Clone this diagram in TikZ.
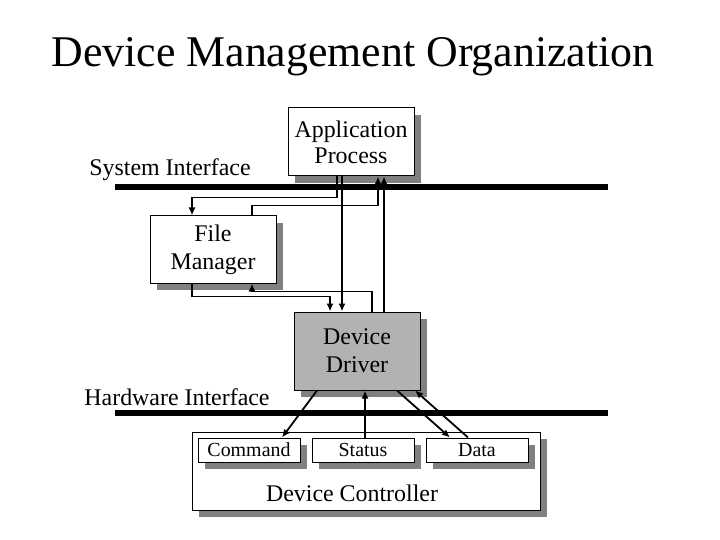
\documentclass[tikz,border=0pt]{standalone}
\usepackage{fontspec}
\setmainfont{Liberation Serif}
\usetikzlibrary{arrows.meta,shadows}

\tikzset{
  box/.style = {draw, line width=1bp, fill=white, align=center,
    font=\fontsize{24}{28}\selectfont,
    drop shadow={shadow xshift=7bp, shadow yshift=-7bp, fill=black!50, opacity=1}},
  smallbox/.style = {box, font=\fontsize{20}{24}\selectfont,
    minimum width=102bp, minimum height=24bp, inner sep=0pt},
  arr/.style = {line width=1.8bp, -{Latex[length=8bp,width=7bp]}},
  bar/.style = {line width=6bp},
  lbl/.style = {font=\fontsize{24}{28}\selectfont}
}

\begin{document}
\begin{tikzpicture}[x=1bp, y=-1bp]
      \useasboundingbox (0,0) rectangle (720,540);

      % Title
      \node[font=\fontsize{44}{50}\selectfont] (title) at (353,57) {Device Management Organization};

      % Interfaces
      \draw[bar] (115,187) -- (608,187);
      \draw[bar] (115,413) -- (608,413);
      \node[lbl] (sysif) at (170,170) {System Interface};
      \node[lbl] (hwif) at (177,397) {Hardware Interface};

      % Boxes
      \node[box, minimum width=126bp, minimum height=68bp, inner sep=0pt] (app) at (351,142)
        {Application\\[-2bp]Process};
      \node[box, minimum width=126bp, minimum height=67bp, inner sep=0pt] (fm) at (213,249.5)
        {File\\Manager};
      \node[box, fill=black!30, minimum width=126bp, minimum height=78bp, inner sep=0pt] (drv) at (357,351)
        {Device\\Driver};
      \node[box, minimum width=348bp, minimum height=78bp, inner sep=0pt] (ctl) at (366,471) {};
      \node[lbl] (ctltext) at (352,493) {Device Controller};
      \node[smallbox] (cmd) at (249,450) {Command};
      \node[smallbox] (sts) at (363,450) {Status};
      \node[smallbox] (dat) at (477,450) {Data};

      % Edges
      \draw[arr] ([xshift=-14bp]app.south) -- ++(0,21) -| ([xshift=-21bp]fm.north);
      \draw[arr] ([xshift=-9bp]app.south) -- ([xshift=-9bp]app.south |- drv.north);
      \draw[arr] ([xshift=39bp]fm.north) -- ++(0,-10) -| ([xshift=27bp]app.south);
      \draw[arr] ([xshift=33bp]app.south |- drv.north) -- ([xshift=33bp]app.south);
      \draw[arr] ([xshift=-21bp]fm.south) -- ++(0,13) -| ([xshift=-27bp]drv.north);
      \draw[arr] ([xshift=15bp]drv.north) -- ++(0,-20) -| ([xshift=39bp]fm.south);
      \draw[arr] ([xshift=-40bp]drv.south) -- ([xshift=33bp]cmd.north);
      \draw[arr] ([xshift=2bp]sts.north) -- ([xshift=2bp]sts.north |- drv.south);
      \draw[arr] ([xshift=40bp]drv.south) -- ([xshift=-27bp]dat.north);
      \draw[arr] ([xshift=-9bp]dat.north) -- ([xshift=58bp]drv.south);
\end{tikzpicture}
\end{document}
